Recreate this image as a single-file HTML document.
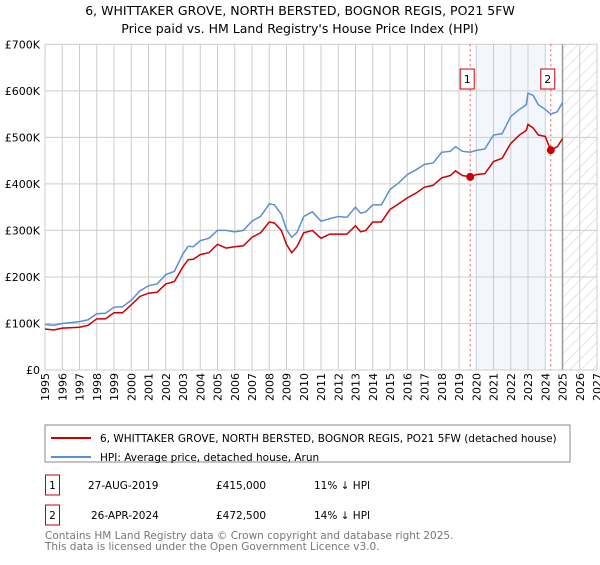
<!DOCTYPE html>
<html><head><meta charset="utf-8"><style>
body{margin:0;background:#fff;font-family:"Liberation Sans","DejaVu Sans",sans-serif;}
svg text{font-family:"DejaVu Sans","Liberation Sans",sans-serif;}
</style></head><body>
<svg id="c" width="600" height="560" xmlns="http://www.w3.org/2000/svg">
<text x="300" y="15" text-anchor="middle" font-size="12.5">6, WHITTAKER GROVE, NORTH BERSTED, BOGNOR REGIS, PO21 5FW</text>
<text x="300" y="33" text-anchor="middle" font-size="12.5">Price paid vs. HM Land Registry's House Price Index (HPI)</text>
<defs><pattern id="h" width="8" height="8" patternUnits="userSpaceOnUse" patternTransform="rotate(45)"><line x1="0" y1="0" x2="0" y2="8" stroke="#ccc" stroke-width="1"/></pattern></defs>
<g id="plot"></g>
<rect x="45" y="425" width="525" height="37" fill="#fff" stroke="#888"/>
<line x1="51" y1="438" x2="91" y2="438" stroke="#cc0000" stroke-width="2"/>
<text x="100" y="442" font-size="10.5">6, WHITTAKER GROVE, NORTH BERSTED, BOGNOR REGIS, PO21 5FW (detached house)</text>
<line x1="51" y1="457" x2="91" y2="457" stroke="#5b8fd4" stroke-width="2"/>
<text x="100" y="461" font-size="10.5">HPI: Average price, detached house, Arun</text>
<g font-size="10.5">
<rect x="45.5" y="475" width="14" height="20" fill="#fff" stroke="#cc0000"/><text x="52.5" y="489" text-anchor="middle">1</text>
<text x="88" y="489">27-AUG-2019</text><text x="216" y="489">£415,000</text><text x="314" y="489">11% ↓ HPI</text>
<rect x="45.5" y="505" width="14" height="20" fill="#fff" stroke="#cc0000"/><text x="52.5" y="519" text-anchor="middle">2</text>
<text x="91" y="519">26-APR-2024</text><text x="216" y="519">£472,500</text><text x="314" y="519">14% ↓ HPI</text>
</g>
<text x="45" y="539" font-size="10.5" fill="#777">Contains HM Land Registry data © Crown copyright and database right 2025.</text>
<text x="45" y="550" font-size="10.5" fill="#777">This data is licensed under the Open Government Licence v3.0.</text>
</svg>
<script>
const hpiYears=[1995,1995.5,1996,1997,1997.5,1998,1998.5,1999,1999.5,2000,2000.5,2001,2001.5,2002,2002.5,2003,2003.3,2003.6,2004,2004.5,2005,2005.5,2006,2006.5,2007,2007.5,2008,2008.3,2008.7,2009,2009.3,2009.6,2010,2010.5,2011,2011.5,2012,2012.5,2013,2013.3,2013.6,2014,2014.5,2015,2015.5,2016,2016.5,2017,2017.5,2018,2018.5,2018.8,2019.2,2019.65,2020,2020.5,2021,2021.5,2022,2022.5,2022.9,2023,2023.3,2023.6,2024,2024.32,2024.7,2025];
const hpiValues=[98,96,100,104,108,121,122,135,136,150,170,181,185,205,212,250,266,265,278,283,300,300,297,300,320,330,357,355,335,302,285,295,330,340,320,325,330,328,350,337,340,355,355,388,402,420,430,442,445,468,470,480,470,468,472,475,505,508,545,560,570,595,590,570,560,550,555,575];
const priceValues=[88,86,90,92,96,110,110,123,123,140,158,165,167,185,190,222,237,238,248,252,270,262,265,267,285,295,318,316,300,270,252,265,295,300,283,292,292,292,310,297,300,318,318,345,357,370,380,393,397,413,418,428,418,415,420,422,448,455,487,505,515,528,520,505,502,472,480,497];
const saleYears=[2019.65,2024.32];
const saleValues=[415,472.5];
const saleLabels=["1","2"];
const yTicks=[0,100,200,300,400,500,600,700];
const xTicks=[1995,1996,1997,1998,1999,2000,2001,2002,2003,2004,2005,2006,2007,2008,2009,2010,2011,2012,2013,2014,2015,2016,2017,2018,2019,2020,2021,2022,2023,2024,2025,2026,2027];
const L=45,R=597,T=44.3,B=370;
const xs=y=>L+(y-1995)/(2027-1995)*(R-L);
const ys=v=>B-v/700*(B-T);
const NS="http://www.w3.org/2000/svg";
const g=document.getElementById('plot');
function mk(t,a){const e=document.createElementNS(NS,t);for(const k in a)e.setAttribute(k,a[k]);g.appendChild(e);return e;}
let r=mk('rect',{x:xs(2020),y:T,width:xs(2024)-xs(2020),height:B-T,fill:'#eef3fc',opacity:0.7});


r=mk('rect',{x:xs(2025),y:T,width:R-xs(2025),height:B-T,fill:'url(#h)'});


xTicks.forEach(y=>{const l=mk('line',{x1:xs(y),x2:xs(y),y1:T,y2:B,stroke:'#ccc'});


const t=mk('text',{x:0,y:0,'font-size':11,'text-anchor':'end',transform:`translate(${xs(y)+4},${B+3}) rotate(-90)`});t.textContent=y;

});
yTicks.forEach(v=>{const l=mk('line',{x1:L,x2:R,y1:ys(v),y2:ys(v),stroke:'#ccc'});


const t=mk('text',{x:40,y:ys(v)+4,'font-size':11,'text-anchor':'end'});t.textContent=v===0?'£0':'£'+v+'K';

});
r=mk('line',{x1:xs(2025),x2:xs(2025),y1:T,y2:B,stroke:'#999','stroke-width':1.5});


saleYears.forEach((y,i)=>{const l=mk('line',{x1:xs(y),x2:xs(y),y1:T,y2:B,stroke:'#e55','stroke-dasharray':'2,3'});

});
function line(vals,c,n){const p=mk('polyline',{points:hpiYears.map((y,i)=>xs(y)+','+ys(vals[i])).join(' '),fill:'none',stroke:c,'stroke-width':1.5});

}
line(hpiValues,'#5b8fd4','hpi-line');
line(priceValues,'#cc0000','price-line');
saleYears.forEach((y,i)=>{const c=mk('circle',{cx:xs(y),cy:ys(saleValues[i]),r:4,fill:'#cc0000'});


const b=mk('rect',{x:xs(y)-10,y:69,width:14,height:20,fill:'#fff',stroke:'#cc0000'});


const t=mk('text',{x:xs(y)-3,y:83,'font-size':11,'text-anchor':'middle'});t.textContent=saleLabels[i];

});
</script>
</body></html>
